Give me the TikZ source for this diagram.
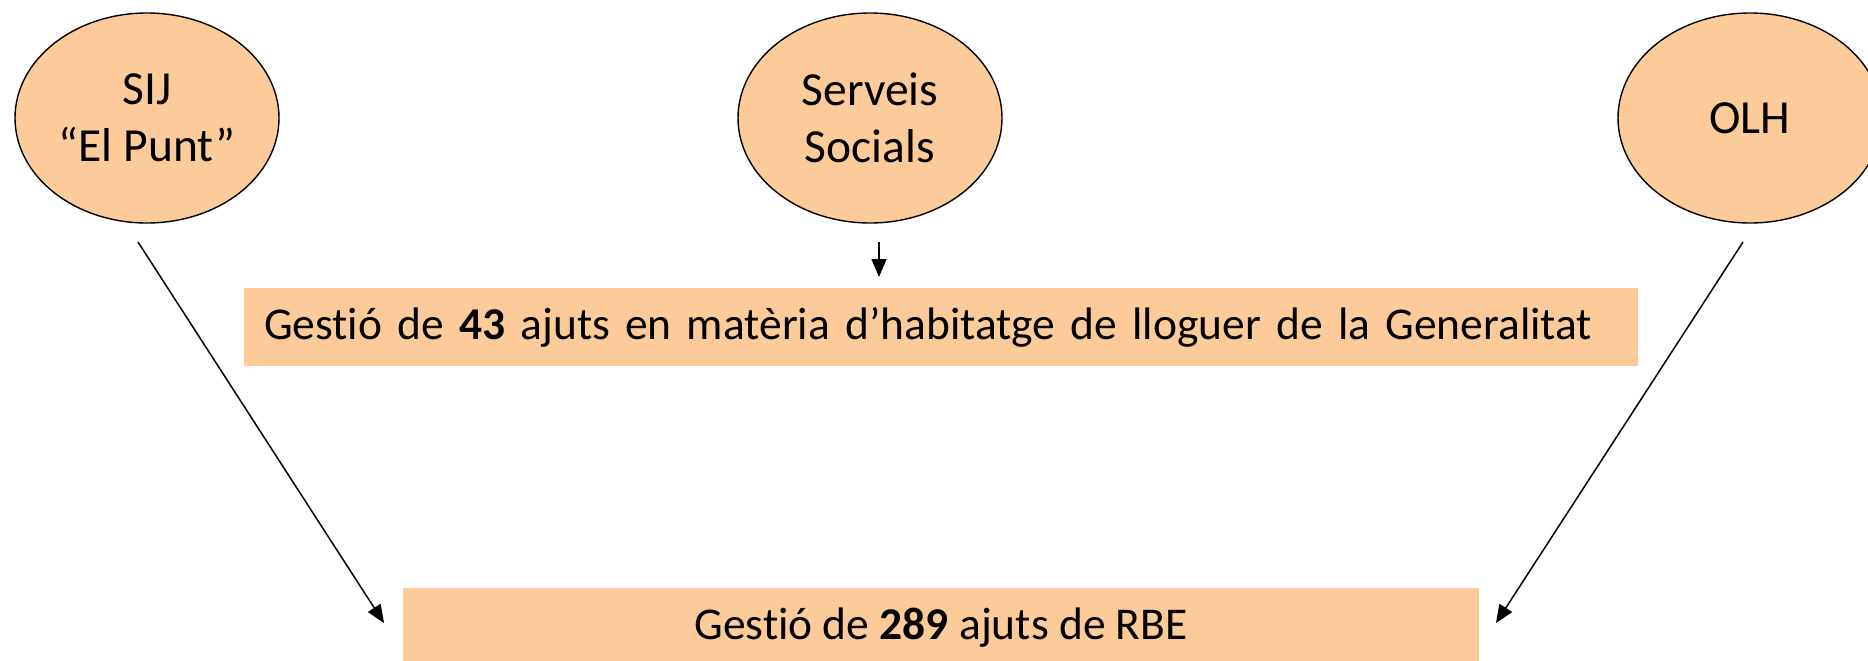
\documentclass[tikz,border=0pt]{standalone}
\usepackage{fontspec}
\setmainfont{Carlito}[Ligatures={TeX,NoCommon}]
\usetikzlibrary{shapes.geometric,arrows.meta}
\definecolor{peach}{HTML}{FCCB99}
\tikzset{
  org/.style={ellipse, draw=black, line width=1.4pt, fill=peach, minimum width=264pt, minimum height=210pt, inner sep=0pt, align=center, font=\fontsize{47.5}{57}\selectfont},
  bar/.style={rectangle, fill=peach, inner sep=0pt, font=\fontsize{45.5}{57}\selectfont},
  link/.style={line width=1.5pt, -{Triangle[length=18pt,width=15pt]}}
}
\begin{document}
\begin{tikzpicture}[x=1pt,y=-1pt]
\useasboundingbox (0,0) rectangle (1868,661);
\clip (0,0) rectangle (1868,661);
\node[org] (sij) at (147,118) {SIJ\\“El Punt”};
\node[org] (ss) at (870,118) {Serveis\\Socials};
\node[org] (olh) at (1750,118) {OLH};
\node[bar, minimum width=1394pt, minimum height=78pt, text width=1354pt, align=left] (hab) at (941,327) {Gestió de \textbf{43} ajuts en matèria d’habitatge de lloguer de la Generalitat};
\node[bar, minimum width=1076pt, minimum height=80pt] (rbe) at (941,628) {Gestió de \textbf{289} ajuts de RBE};
\coordinate (a1) at (138,242);
\coordinate (b1) at (384,623);
\coordinate (a2) at (879,242);
\coordinate (b2) at (879,277);
\coordinate (a3) at (1743,242);
\coordinate (b3) at (1496,623);
\draw[link] (a1) -- (b1);
\draw[link] (a2) -- (b2);
\draw[link] (a3) -- (b3);
\end{tikzpicture}
\end{document}
